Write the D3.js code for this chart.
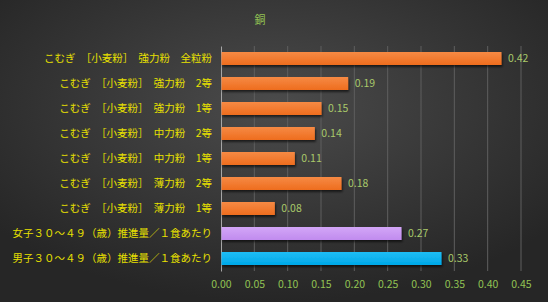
<!DOCTYPE html>
<html>
<head>
<meta charset="utf-8">
<script src="https://cdn.jsdelivr.net/npm/d3@7"></script>
<style>
  body { margin: 0; background: #333; }
  svg { display: block; }
</style>
</head>
<body>
<div id="chart"></div>
<script>
// data
var categories = [
  "こむぎ　［小麦粉］　強力粉　全粒粉",
  "こむぎ　［小麦粉］　強力粉　2等",
  "こむぎ　［小麦粉］　強力粉　1等",
  "こむぎ　［小麦粉］　中力粉　2等",
  "こむぎ　［小麦粉］　中力粉　1等",
  "こむぎ　［小麦粉］　薄力粉　2等",
  "こむぎ　［小麦粉］　薄力粉　1等",
  "女子３０～４９（歳）推進量／１食あたり",
  "男子３０～４９（歳）推進量／１食あたり"
];
var values = [0.42, 0.19, 0.15, 0.14, 0.11, 0.18, 0.08, 0.27, 0.33];
var barColors = ["orange", "orange", "orange", "orange", "orange", "orange", "orange", "purple", "cyan"];
var xTicks = [0, 0.05, 0.1, 0.15, 0.2, 0.25, 0.3, 0.35, 0.4, 0.45];
var title = "銅";

var W = 548, H = 302;
var margin = {top: 46, right: 27, bottom: 31, left: 221};
var width = W - margin.left - margin.right,
    height = H - margin.top - margin.bottom;

var font = "'Noto Sans CJK JP', 'Noto Sans', sans-serif";

var svg = d3.select("#chart").append("svg")
  .attr("width", W).attr("height", H);

var defs = svg.append("defs");
var bg = defs.append("radialGradient").attr("id", "bg")
  .attr("cx", "50%").attr("cy", "35%").attr("r", "65%");
bg.append("stop").attr("offset", "0%").attr("stop-color", "#4b4b4b");
bg.append("stop").attr("offset", "100%").attr("stop-color", "#262626");

var fills = {orange: ["#f68a44", "#ee6d1e"], purple: ["#d3a6f7", "#c08bee"], cyan: ["#1fbdf5", "#00a8e8"]};
Object.keys(fills).forEach(function(k) {
  var g = defs.append("linearGradient").attr("id", "g-" + k)
    .attr("x1", 0).attr("y1", 0).attr("x2", 0).attr("y2", 1);
  g.append("stop").attr("offset", "0%").attr("stop-color", fills[k][0]);
  g.append("stop").attr("offset", "100%").attr("stop-color", fills[k][1]);
});
var sh = defs.append("filter").attr("id", "shadow")
  .attr("x", "-5%").attr("y", "-30%").attr("width", "110%").attr("height", "180%");
sh.append("feDropShadow").attr("dx", 1).attr("dy", 2).attr("stdDeviation", 1.2)
  .attr("flood-color", "#000").attr("flood-opacity", 0.6);

svg.append("rect").attr("width", W).attr("height", H).attr("fill", "url(#bg)");

svg.append("text")
  .attr("x", 260).attr("y", 24)
  .attr("text-anchor", "middle")
  .style("font-family", font).style("font-size", "11px")
  .attr("fill", "#92c353")
  .text(title);

var g = svg.append("g")
  .attr("transform", "translate(" + margin.left + "," + margin.top + ")");

var x = d3.scaleLinear().domain([0, 0.45]).range([0, width]);
var y = d3.scaleBand().domain(categories).range([0, height]).paddingInner(0.48).paddingOuter(0.24);

// gridlines
g.append("g")
  .selectAll("line").data(xTicks.slice(1)).enter().append("line")
  .attr("x1", function(d) { return x(d); }).attr("x2", function(d) { return x(d); })
  .attr("y1", 0).attr("y2", height)
  .attr("stroke", "#5e5e5e").attr("stroke-width", 1);

// x axis
var xAxis = g.append("g")
  .attr("transform", "translate(0," + height + ")")
  .call(d3.axisBottom(x).tickValues(xTicks).tickFormat(d3.format(".2f")).tickSize(0).tickPadding(10));
xAxis.select(".domain").remove();
xAxis.selectAll("text")
  .style("font-family", font).style("font-size", "10.5px")
  .attr("fill", "#92c353");

// y axis
var yAxis = g.append("g")
  .call(d3.axisLeft(y).tickSize(0).tickPadding(9));
yAxis.select(".domain").attr("stroke", "#a6a6a6");
yAxis.selectAll("text")
  .style("font-family", font).style("font-size", "10.5px")
  .attr("fill", "#e8e000");

// bars
g.append("g")
  .selectAll("rect").data(values).enter().append("rect")
  .attr("x", x(0) + 0.5)
  .attr("y", function(d, i) { return y(categories[i]); })
  .attr("width", function(d) { return x(d) - x(0); })
  .attr("height", y.bandwidth())
  .attr("fill", function(d, i) { return "url(#g-" + barColors[i] + ")"; })
  .attr("filter", "url(#shadow)");

// value labels
g.append("g")
  .selectAll("text").data(values).enter().append("text")
  .attr("x", function(d) { return x(d) + 7; })
  .attr("y", function(d, i) { return y(categories[i]) + y.bandwidth() / 2; })
  .attr("dy", "0.35em")
  .style("font-family", font).style("font-size", "10.5px")
  .attr("fill", "#a9c96a")
  .text(function(d) { return d.toFixed(2); });
</script>
</body>
</html>
